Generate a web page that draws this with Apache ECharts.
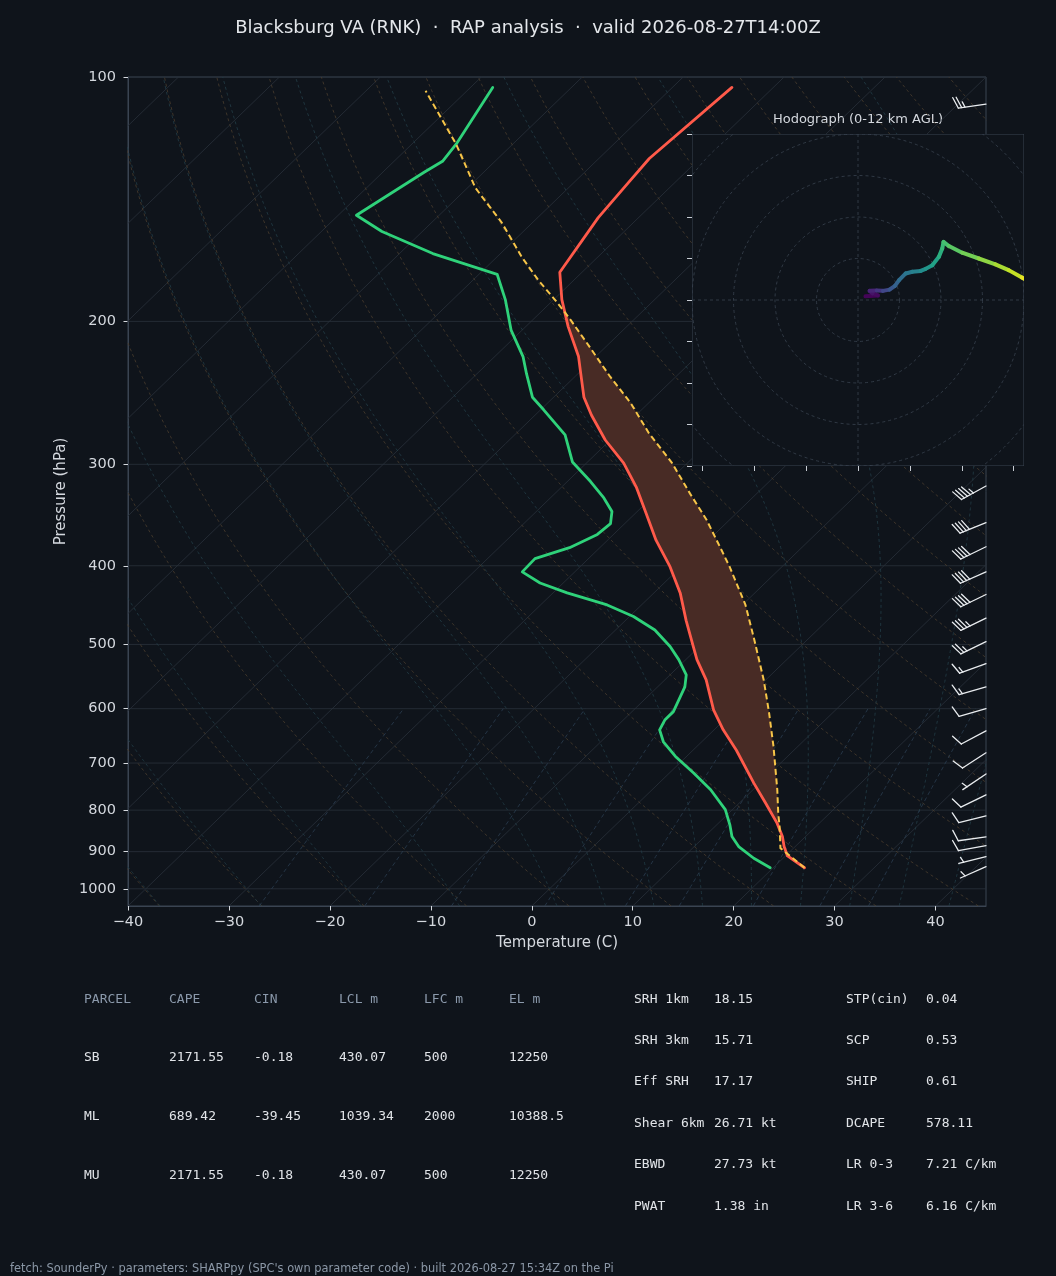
<!DOCTYPE html>
<html>
<head>
<meta charset="utf-8">
<title>Blacksburg VA (RNK) sounding</title>
<script src="https://cdn.jsdelivr.net/npm/echarts@6/dist/echarts.min.js"></script>
<style>
  html, body { margin: 0; padding: 0; background: #0f141b; }
  #chart { width: 1056px; height: 1276px; }
</style>
</head>
<body>
<div id="chart"></div>
<script>
// ---- sounding data ----
const tempP = [942, 911, 887, 862, 830, 784, 741, 675, 637, 602, 553, 522, 503, 467, 432, 401, 372, 345, 320, 299, 280, 261, 248, 231, 221, 203, 188, 174, 149, 135, 126, 103]
const tempC = [23.1, 20.2, 18.9, 17.7, 15.8, 12.6, 9.4, 4.3, 0.9, -2.1, -5.9, -8.9, -10.6, -14.0, -17.4, -21.1, -25.2, -28.9, -32.6, -36.3, -40.5, -44.4, -47.0, -49.9, -51.7, -55.8, -59.2, -62.2, -64.0, -64.6, -65.0, -64.1]

const dewP = [942, 917, 887, 862, 834, 799, 755, 720, 687, 659, 637, 619, 605, 564, 545, 522, 503, 480, 462, 447, 432, 420, 407, 392, 380, 366, 355, 343, 330, 315, 298, 276, 257, 248, 232, 221, 205, 188, 175, 165, 155, 148, 131, 127, 121, 103]
const dewC = [19.7, 17.1, 14.4, 12.7, 11.3, 9.3, 5.8, 2.4, -1.1, -3.8, -5.4, -5.9, -5.9, -7.3, -8.4, -10.7, -12.9, -16.1, -19.6, -23.4, -28.6, -32.3, -35.2, -35.3, -33.0, -31.6, -31.4, -32.5, -34.7, -37.7, -41.5, -45.0, -49.7, -52.1, -55.1, -57.2, -61.1, -64.8, -68.2, -76.7, -84.0, -88.2, -85.9, -85.2, -85.6, -87.8]

const parP = [942, 891, 838, 807, 755, 668, 607, 553, 494, 447, 401, 379, 351, 326, 299, 275, 252, 234, 215, 199, 188, 178, 167, 151, 137, 121, 104]
const parC = [23.1, 18.7, 16.4, 14.9, 12.4, 7.6, 3.7, -0.2, -5.2, -9.7, -15.2, -18.2, -22.3, -26.6, -31.5, -36.8, -41.8, -46.5, -51.6, -56.3, -59.9, -63.5, -67.4, -73.1, -79.2, -85.6, -94.1]

// wind barbs: pressure (hPa), speed (kt), direction (deg from)
const barbP = [108, 319, 354, 379, 407, 434, 464, 496, 528, 564, 600, 639, 680, 722, 766, 813, 863, 885, 913, 939]
const barbSpd = [25, 45, 40, 40, 40, 40, 35, 25, 15, 15, 10, 10, 10, 5, 10, 10, 10, 10, 5, 5]
const barbDir = [262, 241, 248, 244, 246, 244, 244, 244, 250, 254, 254, 242, 237, 236, 244, 256, 262, 260, 256, 246]

// hodograph (kt) and height AGL (km)
const hodoU = [1.8, 4.8, 3.5, 2.8, 4.5, 6.0, 7.6, 8.9, 9.9, 11.5, 13.1, 15.1, 16.3, 17.9, 19.5, 20.3, 20.6, 21.9, 25.1, 29.1, 33.1, 36.3, 39.5, 43.0]
const hodoV = [0.9, 1.1, 1.6, 2.2, 2.3, 2.2, 2.5, 3.4, 4.8, 6.4, 6.8, 7.0, 7.5, 8.4, 10.4, 12.4, 14.0, 13.0, 11.4, 10.0, 8.6, 7.2, 5.4, 3.5]
const hodoH = [0, 0.2, 0.5, 0.9, 1.5, 2.2, 2.9, 3.5, 4.0, 4.5, 5.0, 5.5, 6.0, 6.5, 7.2, 7.8, 8.3, 8.6, 9.2, 9.7, 10.2, 10.7, 11.2, 12.0]

// ticks and background line families
const pressureTicks = [100, 200, 300, 400, 500, 600, 700, 800, 900, 1000]
const tempTicks = [-40, -30, -20, -10, 0, 10, 20, 30, 40]
const hodoXTicks = [-37.5, -25, -12.5, 0, 12.5, 25, 37.5]
const hodoYTicks = [-40, -30, -20, -10, 0, 10, 20, 30, 40]
const hodoRings = [10, 20, 30, 40, 50]
const isotherms = [-130, -120, -110, -100, -90, -80, -70, -60, -50, -40, -30, -20, -10, 0, 10, 20, 30, 40]
const dryThetaK = [233, 243, 253, 263, 273, 283, 293, 303, 313, 323, 333, 343, 353, 363, 373, 383, 393, 403, 413, 423, 433, 443, 453, 463, 473]
const moistT0 = [-40, -30, -20, -10, 0, 5, 10, 15, 20, 25, 30, 35, 40, 45]
const mixRatios = [0.0004, 0.001, 0.002, 0.004, 0.007, 0.01, 0.016, 0.024, 0.032]

// table
const parcelCols = ['PARCEL', 'CAPE', 'CIN', 'LCL m', 'LFC m', 'EL m']
const parcelRows = [
  ['SB', '2171.55', '-0.18', '430.07', '500', '12250'],
  ['ML', '689.42', '-39.45', '1039.34', '2000', '10388.5'],
  ['MU', '2171.55', '-0.18', '430.07', '500', '12250']
]
const kinNames = ['SRH 1km', 'SRH 3km', 'Eff SRH', 'Shear 6km', 'EBWD', 'PWAT']
const kinVals = ['18.15', '15.71', '17.17', '26.71 kt', '27.73 kt', '1.38 in']
const thermNames = ['STP(cin)', 'SCP', 'SHIP', 'DCAPE', 'LR 0-3', 'LR 3-6']
const thermVals = ['0.04', '0.53', '0.61', '578.11', '7.21 C/km', '6.16 C/km']

// ---- skew-T coordinates ----
const P_TOP = 100, P_BOT = 1050, T_MIN = -40, T_MAX = 45
const lp = p => Math.log10(p)
const SKEW = (T_MAX - T_MIN) / (lp(P_BOT) - lp(P_TOP))
const pt = (t, p) => [t + SKEW * (lp(P_BOT) - lp(p)), lp(p)]

function pLevels(p0, p1, n) {
  const out = []
  for (let i = 0; i <= n; i++) out.push(Math.pow(10, lp(p0) + (lp(p1) - lp(p0)) * i / n))
  return out
}

const isothermLines = isotherms.map(t => [pt(t, P_BOT), pt(t, P_TOP)])
const isobarLines = pressureTicks.map(p => [[T_MIN, lp(p)], [T_MAX, lp(p)]])
const dryLines = dryThetaK.map(th => pLevels(P_BOT, P_TOP, 60).map(p => pt(th * Math.pow(p / 1000, 0.2857) - 273.15, p)))

function moistPath(t0) {
  const Rd = 287.04749, Cp = 1004.6662, Lv = 2.50084e6, eps = 0.621957
  const f = (p, T) => {
    const es = 6.112 * Math.exp(17.67 * (T - 273.15) / (T - 29.65))
    const rs = eps * es / (p - es)
    return (Rd * T + Lv * rs) / (p * (Cp + Lv * Lv * rs * eps / (Rd * T * T)))
  }
  const run = (pEnd, n) => {
    let p = 1000, T = t0 + 273.15
    const out = [[p, T]]
    const h = (pEnd - 1000) / n
    for (let i = 0; i < n; i++) {
      const k1 = f(p, T), k2 = f(p + h / 2, T + h / 2 * k1), k3 = f(p + h / 2, T + h / 2 * k2), k4 = f(p + h, T + h * k3)
      T += h / 6 * (k1 + 2 * k2 + 2 * k3 + k4)
      p += h
      out.push([p, T])
    }
    return out
  }
  const up = run(P_TOP, 180), down = run(P_BOT, 10)
  return down.reverse().concat(up.slice(1)).map(d => pt(d[1] - 273.15, d[0]))
}
const moistLines = moistT0.map(moistPath)

function mixPath(w) {
  return pLevels(P_BOT, 600, 20).map(p => {
    const e = p * w / (0.622 + w)
    const l = Math.log(e / 6.112)
    return pt(243.5 * l / (17.67 - l), p)
  })
}
const mixLines = mixRatios.map(mixPath)

// CAPE area: where parcel is warmer than the environment
function interpT(ps, ts, p) {
  for (let i = 0; i < ps.length - 1; i++) {
    if (p <= ps[i] && p >= ps[i + 1]) {
      const f = (lp(p) - lp(ps[i])) / (lp(ps[i + 1]) - lp(ps[i]))
      return ts[i] + f * (ts[i + 1] - ts[i])
    }
  }
  return null
}
function capePolys() {
  const lev = Array.from(new Set(tempP.concat(parP))).sort((a, b) => b - a)
  const rows = []
  lev.forEach(p => {
    const tp = interpT(parP, parC, p), te = interpT(tempP, tempC, p)
    if (tp !== null && te !== null) rows.push({ p, tp, te, d: tp - te })
  })
  const polys = []
  let cur = []
  rows.forEach((r, i) => {
    if (i > 0) {
      const q = rows[i - 1]
      if ((q.d > 0) !== (r.d > 0)) {
        const f = q.d / (q.d - r.d)
        const pc = Math.pow(10, lp(q.p) + f * (lp(r.p) - lp(q.p)))
        const tc = q.tp + f * (r.tp - q.tp)
        const x = { p: pc, tp: tc, te: tc }
        if (q.d > 0) { cur.push(x); polys.push(cur); cur = [] } else { cur = [x] }
      }
    }
    if (r.d > 0) cur.push(r)
  })
  if (cur.length > 1) polys.push(cur)
  return polys
}
const cape = capePolys()

const VIRIDIS = ['#440154', '#482475', '#414487', '#355f8d', '#2a788e', '#21918c', '#22a884', '#44bf70', '#7ad151', '#bddf26', '#fde725']
function viridis(f) {
  f = Math.max(0, Math.min(1, f))
  const s = f * 10, i = Math.min(9, Math.floor(s)), t = s - i
  const a = VIRIDIS[i], b = VIRIDIS[i + 1]
  const c = k => Math.round(parseInt(a.substr(k, 2), 16) * (1 - t) + parseInt(b.substr(k, 2), 16) * t)
  return 'rgb(' + c(1) + ',' + c(3) + ',' + c(5) + ')'
}

const BG = '#0f141b'
const FRAME = '#3a4452'
const TXT = '#d4d8de'
const FONT = 'DejaVu Sans'
const MONO = '"DejaVu Sans Mono", monospace'

const bgLines = (data, color, type, z) => ({
  type: 'lines', coordinateSystem: 'cartesian2d', xAxisIndex: 0, yAxisIndex: 0,
  polyline: true, silent: true, clip: true, z: z || 1,
  lineStyle: { color, width: 0.8, type, opacity: 1 },
  data: data.map(c => ({ coords: c }))
})

const chart = echarts.init(document.getElementById('chart'), null, { renderer: 'canvas' })

// table graphics
const graphics = []
const colX = [84, 169, 254, 339, 424, 509]
const rowY = [1000, 1058, 1117, 1176]
parcelCols.forEach((t, j) => graphics.push({ type: 'text', x: colX[j], y: rowY[0], style: { text: t, fill: '#8b99ab', font: '13px ' + MONO, verticalAlign: 'middle' } }))
parcelRows.forEach((row, i) => row.forEach((t, j) => graphics.push({ type: 'text', x: colX[j], y: rowY[i + 1], style: { text: t, fill: '#e1e4e8', font: '13px ' + MONO, verticalAlign: 'middle' } })))
const rY = [1000, 1041, 1082, 1124, 1165, 1207]
kinNames.forEach((t, i) => {
  graphics.push({ type: 'text', x: 634, y: rY[i], style: { text: t, fill: '#e1e4e8', font: '13px ' + MONO, verticalAlign: 'middle' } })
  graphics.push({ type: 'text', x: 714, y: rY[i], style: { text: kinVals[i], fill: '#e1e4e8', font: '13px ' + MONO, verticalAlign: 'middle' } })
  graphics.push({ type: 'text', x: 846, y: rY[i], style: { text: thermNames[i], fill: '#e1e4e8', font: '13px ' + MONO, verticalAlign: 'middle' } })
  graphics.push({ type: 'text', x: 926, y: rY[i], style: { text: thermVals[i], fill: '#e1e4e8', font: '13px ' + MONO, verticalAlign: 'middle' } })
})
graphics.push({ type: 'text', x: 858, y: 120, style: { text: 'Hodograph (0-12 km AGL)', fill: TXT, font: '13px ' + FONT, align: 'center', verticalAlign: 'middle' } })
graphics.push({ type: 'text', x: 10, y: 1269, style: { text: "fetch: SounderPy \u00b7 parameters: SHARPpy (SPC's own parameter code) \u00b7 built 2026-08-27 15:34Z on the Pi", fill: '#8b97a6', font: '11.4px ' + FONT, verticalAlign: 'middle' } })

const option = {
  backgroundColor: BG,
  animation: false,
  title: {
    text: 'Blacksburg VA (RNK)  \u00b7  RAP analysis  \u00b7  valid 2026-08-27T14:00Z',
    left: 'center', top: 14,
    textStyle: { color: '#e4e7eb', fontSize: 18, fontWeight: 'normal', fontFamily: FONT }
  },
  grid: [
    { left: 128, top: 77, width: 858, height: 829, show: true, borderColor: FRAME, borderWidth: 1, backgroundColor: 'transparent', outerBoundsMode: 'none' },
    { left: 692, top: 134, width: 332, height: 332, show: false, outerBoundsMode: 'none' }
  ],
  xAxis: [
    {
      gridIndex: 0, type: 'value', min: T_MIN, max: T_MAX,
      axisLine: { show: true, onZero: false, lineStyle: { color: FRAME } },
      axisTick: { show: true, length: 4.5, customValues: tempTicks, lineStyle: { color: '#d6dadf' } },
      axisLabel: { customValues: tempTicks, color: TXT, fontSize: 14.5, fontFamily: FONT, margin: 9, formatter: v => (v < 0 ? '\u2212' + (-v) : String(v)) },
      splitLine: { show: false },
      name: 'Temperature (C)', nameLocation: 'middle', nameGap: 30,
      nameTextStyle: { color: TXT, fontSize: 15, fontFamily: FONT }
    },
    {
      gridIndex: 1, type: 'value', min: -40, max: 40, z: 12,
      axisLine: { show: false, onZero: false },
      axisTick: { show: true, length: 5, customValues: hodoXTicks, lineStyle: { color: '#c8cdd4' } },
      axisLabel: { show: false },
      splitLine: { show: false }
    }
  ],
  yAxis: [
    {
      gridIndex: 0, type: 'value', min: lp(P_TOP), max: lp(P_BOT), inverse: true,
      axisLine: { show: true, onZero: false, lineStyle: { color: FRAME } },
      axisTick: { show: true, length: 4.5, customValues: pressureTicks.map(lp), lineStyle: { color: '#d6dadf' } },
      axisLabel: { customValues: pressureTicks.map(lp), color: TXT, fontSize: 14.5, fontFamily: FONT, margin: 12, formatter: v => String(Math.round(Math.pow(10, v))) },
      splitLine: { show: false },
      name: 'Pressure (hPa)', nameLocation: 'middle', nameGap: 55, nameRotate: 90,
      nameTextStyle: { color: TXT, fontSize: 15, fontFamily: FONT }
    },
    {
      gridIndex: 1, type: 'value', min: -40, max: 40, z: 12,
      axisLine: { show: false, onZero: false },
      axisTick: { show: true, length: 5, customValues: hodoYTicks, lineStyle: { color: '#c8cdd4' } },
      axisLabel: { show: false },
      splitLine: { show: false }
    }
  ],
  graphic: { elements: graphics },
  series: [
    bgLines(isobarLines, '#2a313b', 'solid'),
    bgLines(isothermLines, '#2a313b', 'solid'),
    bgLines(dryLines, '#4a3e2f', [3, 3]),
    bgLines(moistLines, '#233e48', [3, 3]),
    bgLines(mixLines, '#2b3e50', [4, 3]),
    {
      type: 'custom', coordinateSystem: 'cartesian2d', xAxisIndex: 0, yAxisIndex: 0,
      silent: true, z: 2, clip: true,
      data: [[0, lp(500)]],
      renderItem: (params, api) => ({
        type: 'group',
        children: cape.map(poly => ({
          type: 'polygon',
          shape: { points: poly.map(r => api.coord(pt(r.tp, r.p))).concat(poly.slice().reverse().map(r => api.coord(pt(r.te, r.p)))) },
          style: { fill: '#482b25', stroke: null }
        }))
      })
    },
    {
      type: 'line', xAxisIndex: 0, yAxisIndex: 0, silent: true, z: 4, symbol: 'none', clip: true,
      data: dewP.map((p, i) => pt(dewC[i], p)),
      lineStyle: { color: '#2fd27a', width: 2.8, cap: 'round', join: 'round' }
    },
    {
      type: 'line', xAxisIndex: 0, yAxisIndex: 0, silent: true, z: 4, symbol: 'none', clip: true,
      data: tempP.map((p, i) => pt(tempC[i], p)),
      lineStyle: { color: '#ff5a4a', width: 2.8, cap: 'round', join: 'round' }
    },
    {
      type: 'line', xAxisIndex: 0, yAxisIndex: 0, silent: true, z: 5, symbol: 'none', clip: true,
      data: parP.map((p, i) => pt(parC[i], p)),
      lineStyle: { color: '#f7c548', width: 2, type: [6, 3.5], join: 'round' }
    },
    {
      // wind barbs along the right edge
      type: 'custom', coordinateSystem: 'cartesian2d', xAxisIndex: 0, yAxisIndex: 0,
      silent: true, z: 6,
      data: barbP.map((p, i) => [T_MAX, lp(p), barbSpd[i], barbDir[i]]),
      encode: { x: 0, y: 1 },
      renderItem: (params, api) => {
        const tip = api.coord([api.value(0), api.value(1)])
        const spd = Math.round(api.value(2) / 5) * 5
        const rad = api.value(3) * Math.PI / 180
        const sx = Math.sin(rad), sy = -Math.cos(rad)
        const nx = -sy, ny = sx
        const L = 28, H = 11, W = 4, SP = 3.4
        const tail = [tip[0] + sx * L, tip[1] + sy * L]
        const st = { stroke: '#e9ecef', lineWidth: 1.3, lineCap: 'round' }
        const kids = [{ type: 'line', shape: { x1: tip[0], y1: tip[1], x2: tail[0], y2: tail[1] }, style: st }]
        const full = Math.floor(spd / 10), half = spd % 10 >= 5
        let pos = 0
        const barb = (len) => {
          const bx = tail[0] - sx * pos, by = tail[1] - sy * pos
          kids.push({ type: 'line', shape: { x1: bx, y1: by, x2: bx + nx * len + sx * W * len / H, y2: by + ny * len + sy * W * len / H }, style: st })
          pos += SP
        }
        for (let k = 0; k < full; k++) barb(H)
        if (half) {
          if (full === 0) pos = SP * 1.5
          barb(H / 2)
        }
        return { type: 'group', children: kids }
      }
    },
    {
      // hodograph panel: background, rings and cross
      type: 'custom', coordinateSystem: 'cartesian2d', xAxisIndex: 1, yAxisIndex: 1,
      silent: true, z: 10, clip: true,
      data: [[0, 0]],
      renderItem: (params, api) => {
        const c = api.coord([0, 0])
        const tl = api.coord([-40, 40]), br = api.coord([40, -40])
        const r1 = api.size([1, 0])[0]
        const dash = { stroke: '#38424f', lineWidth: 0.8, lineDash: [3, 3], fill: null }
        const kids = [{ type: 'rect', shape: { x: tl[0], y: tl[1], width: br[0] - tl[0], height: br[1] - tl[1] }, style: { fill: BG, stroke: null } }]
        hodoRings.forEach(r => kids.push({ type: 'circle', shape: { cx: c[0], cy: c[1], r: r * r1 }, style: dash }))
        kids.push({ type: 'line', shape: { x1: tl[0], y1: c[1], x2: br[0], y2: c[1] }, style: dash })
        kids.push({ type: 'line', shape: { x1: c[0], y1: tl[1], x2: c[0], y2: br[1] }, style: dash })
        kids.push({ type: 'rect', shape: { x: tl[0], y: tl[1], width: br[0] - tl[0], height: br[1] - tl[1] }, style: { fill: null, stroke: FRAME, lineWidth: 1 } })
        return { type: 'group', children: kids }
      }
    },
    {
      // hodograph trace coloured by height
      type: 'custom', coordinateSystem: 'cartesian2d', xAxisIndex: 1, yAxisIndex: 1,
      silent: true, z: 11, clip: true,
      data: hodoU.slice(0, -1).map((u, i) => [u, hodoV[i], hodoU[i + 1], hodoV[i + 1], (hodoH[i] + hodoH[i + 1]) / 2]),
      encode: { x: [0, 2], y: [1, 3] },
      renderItem: (params, api) => {
        const a = api.coord([api.value(0), api.value(1)])
        const b = api.coord([api.value(2), api.value(3)])
        return {
          type: 'line',
          shape: { x1: a[0], y1: a[1], x2: b[0], y2: b[1] },
          style: { stroke: viridis(api.value(4) / 12), lineWidth: 4, lineCap: 'round' }
        }
      }
    }
  ]
}

chart.setOption(option)
</script>
</body>
</html>
